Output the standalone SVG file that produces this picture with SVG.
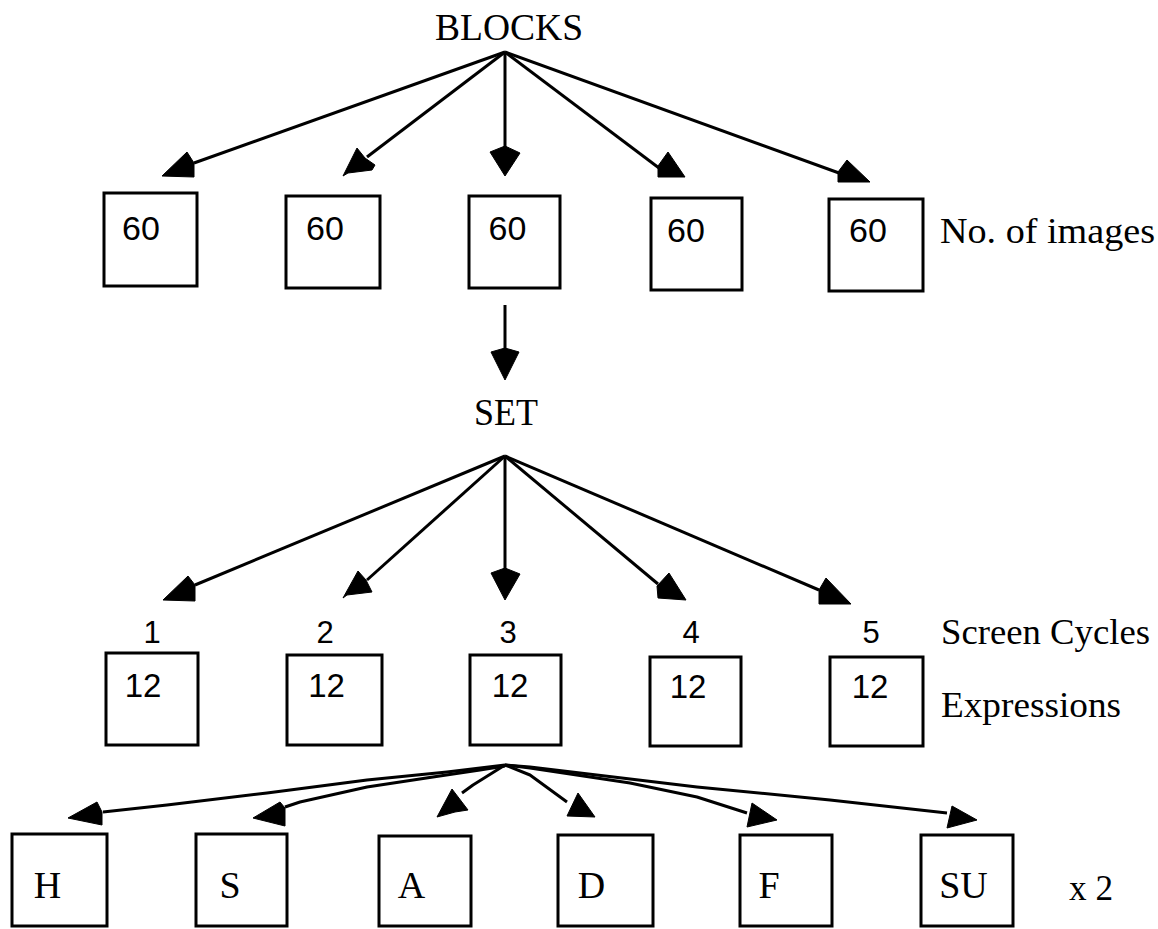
<svg xmlns="http://www.w3.org/2000/svg" width="1158" height="929" viewBox="0 0 1158 929">
<style>
.box{fill:#fff;stroke:#000;stroke-width:3}
.ln{fill:none;stroke:#000;stroke-width:3;stroke-linejoin:round}
.hd{fill:#000;stroke:#000;stroke-width:1}
.mono{font-family:"Liberation Serif","Times New Roman",serif;font-size:38px;fill:#000}
.sans{font-family:"Liberation Sans",Arial,sans-serif;fill:#000;text-anchor:middle}
.serif{font-family:"Liberation Serif","Times New Roman",serif;font-size:35px;fill:#000}
</style>
<rect width="1158" height="929" fill="#fff"/>

<g id="blocks"><text class="mono" x="435" y="40" textLength="148" lengthAdjust="spacingAndGlyphs">BLOCKS</text></g>

<g id="top1"><rect class="box" x="104" y="193" width="93" height="93"/><text class="sans" x="141" y="240" font-size="34">60</text></g>
<g id="top2"><rect class="box" x="286" y="196" width="94" height="92"/><text class="sans" x="325" y="240" font-size="34">60</text></g>
<g id="top3"><rect class="box" x="469" y="196" width="91" height="92"/><text class="sans" x="507.5" y="240" font-size="34">60</text></g>
<g id="top4"><rect class="box" x="651" y="198" width="91" height="92"/><text class="sans" x="686" y="242" font-size="34">60</text></g>
<g id="top5"><rect class="box" x="829" y="199" width="94" height="92"/><text class="sans" x="868" y="242" font-size="34">60</text></g>
<g id="label-images"><text class="serif" x="940" y="243" textLength="215" lengthAdjust="spacingAndGlyphs">No. of images</text></g>

<g id="set"><text class="mono" x="474" y="425" textLength="64" lengthAdjust="spacingAndGlyphs">SET</text></g>

<g id="cycle-labels">
<text class="sans" x="152" y="643" font-size="31">1</text>
<text class="sans" x="325" y="643" font-size="31">2</text>
<text class="sans" x="508" y="643" font-size="31">3</text>
<text class="sans" x="691" y="643" font-size="31">4</text>
<text class="sans" x="871" y="643" font-size="31">5</text>
</g>
<g id="mid1"><rect class="box" x="106" y="653" width="92" height="92"/><text class="sans" x="143" y="697" font-size="33">12</text></g>
<g id="mid2"><rect class="box" x="287" y="655" width="95" height="90"/><text class="sans" x="326.5" y="697" font-size="33">12</text></g>
<g id="mid3"><rect class="box" x="470" y="655" width="91" height="90"/><text class="sans" x="510" y="697" font-size="33">12</text></g>
<g id="mid4"><rect class="box" x="650" y="657" width="91" height="89"/><text class="sans" x="688" y="698" font-size="33">12</text></g>
<g id="mid5"><rect class="box" x="830" y="657" width="93" height="89"/><text class="sans" x="870" y="698" font-size="33">12</text></g>
<g id="label-cycles"><text class="serif" x="941" y="644" textLength="209" lengthAdjust="spacingAndGlyphs">Screen Cycles</text></g>
<g id="label-expr"><text class="serif" x="941" y="717" textLength="180" lengthAdjust="spacingAndGlyphs">Expressions</text></g>

<g id="bH"><rect class="box" x="12" y="834" width="95" height="92"/><text class="mono" x="47.5" y="898" text-anchor="middle">H</text></g>
<g id="bS"><rect class="box" x="196" y="834" width="91" height="92"/><text class="mono" x="230" y="898" text-anchor="middle">S</text></g>
<g id="bA"><rect class="box" x="379" y="836" width="92" height="90"/><text class="mono" x="411.5" y="898" text-anchor="middle">A</text></g>
<g id="bD"><rect class="box" x="558" y="835" width="95" height="91"/><text class="mono" x="591.5" y="898" text-anchor="middle">D</text></g>
<g id="bF"><rect class="box" x="740" y="835" width="92" height="91"/><text class="mono" x="769" y="898" text-anchor="middle">F</text></g>
<g id="bSU"><rect class="box" x="921" y="835" width="92" height="91"/><text class="mono" x="963.5" y="898" text-anchor="middle">SU</text></g>
<g id="label-x2"><text class="serif" x="1069" y="900" textLength="44" lengthAdjust="spacingAndGlyphs">x 2</text></g>

<g id="connectors">
<polyline class="ln" points="505,52 194,163"/>
<polygon class="hd" points="162,176 187,152 194,163 194,177"/>
<polyline class="ln" points="505,52 367,157"/>
<polygon class="hd" points="343,176 357,148 365,158 375,165 372,170 348,173"/>
<polyline class="ln" points="505,52 505,150"/>
<polygon class="hd" points="490,152 505,146 520,153 505,176"/>
<polyline class="ln" points="505,52 659,168"/>
<polygon class="hd" points="658,166 668,152 685,177 658,177"/>
<polyline class="ln" points="505,52 839,173"/>
<polygon class="hd" points="838,172 847,160 870,182 838,182"/>
<polyline class="ln" points="505,305 505,352"/>
<polygon class="hd" points="491,352 505,348 519,352 505,380"/>
<polyline class="ln" points="505,456 195,585"/>
<polygon class="hd" points="163,600 188,576 195,585 195,601"/>
<polyline class="ln" points="505,456 367,580"/>
<polygon class="hd" points="343,598 358,571 366,580 372,592 347,595"/>
<polyline class="ln" points="505,456 505,572"/>
<polygon class="hd" points="491,573 505,568 520,574 505,600"/>
<polyline class="ln" points="505,456 658,584"/>
<polygon class="hd" points="657,586 669,573 686,600 658,598"/>
<polyline class="ln" points="505,456 819,590"/>
<polygon class="hd" points="819,590 826,578 851,604 819,604"/>
<polyline class="ln" points="505,765 447,772 367,780 267,793 167,805 103,812"/>
<polygon class="hd" points="68,818 97,802 102,812 102,825"/>
<polyline class="ln" points="505,766 480,770 433,777 367,787 300,802 285,807"/>
<polygon class="hd" points="253,818 280,802 285,808 285,826"/>
<polyline class="ln" points="505,765 473,785 462,793"/>
<polygon class="hd" points="437,817 452,789 468,810 455,812"/>
<polyline class="ln" points="505,765 530,775 567,802"/>
<polygon class="hd" points="567,816 578,793 595,817"/>
<polyline class="ln" points="505,765 530,768 630,783 697,797 747,813"/>
<polygon class="hd" points="747,827 752,803 777,820"/>
<polyline class="ln" points="505,765 530,767 697,787 830,800 947,813"/>
<polygon class="hd" points="947,828 952,806 977,820"/>
</g>
</svg>
